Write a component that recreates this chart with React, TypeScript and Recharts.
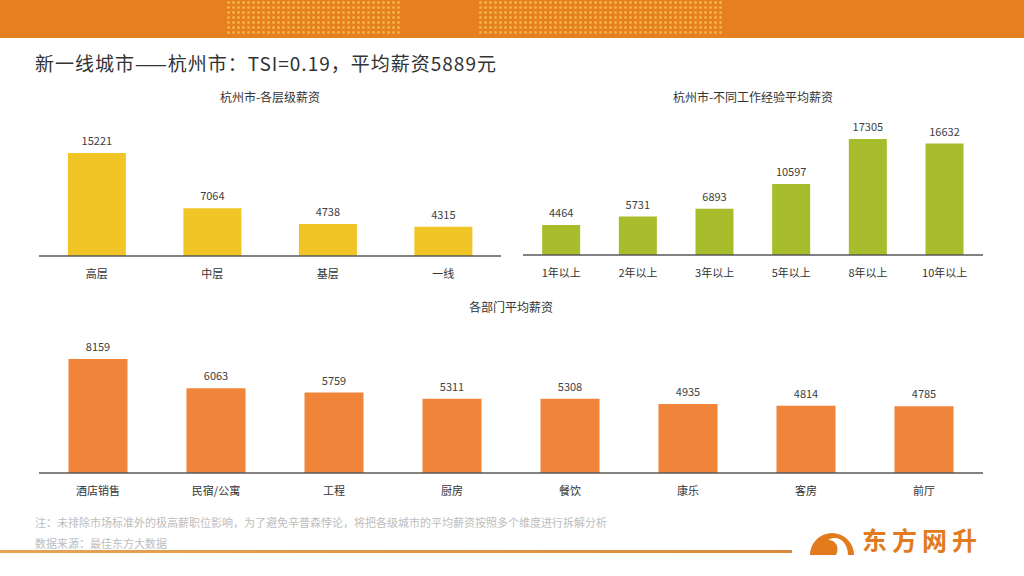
import { BarChart, Bar, XAxis, YAxis, LabelList } from "recharts"

const levelNames = ["高层", "中层", "基层", "一线"]
const levelPay = [15221, 7064, 4738, 4315]

const expNames = ["1年以上", "2年以上", "3年以上", "5年以上", "8年以上", "10年以上"]
const expPay = [4464, 5731, 6893, 10597, 17305, 16632]

const deptNames = ["酒店销售", "民宿/公寓", "工程", "厨房", "餐饮", "康乐", "客房", "前厅"]
const deptPay = [8159, 6063, 5759, 5311, 5308, 4935, 4814, 4785]

const FONT = "'Noto Sans CJK SC', 'Noto Sans', sans-serif"

const toRows = (names: string[], vals: number[]) =>
  names.map((name, i) => ({ name, value: vals[i] }))

interface Props {
  names: string[]
  values: number[]
  color: string
  width: number
  height: number
  top: number
  gap: string
}

const Plot = (props: Props) => {
  return (
    <BarChart
      width={props.width}
      height={props.height}
      data={toRows(props.names, props.values)}
      margin={{ top: props.top, right: 0, left: 0, bottom: 0 }}
      barCategoryGap={props.gap}
    >
      <XAxis
        dataKey="name"
        tickLine={false}
        axisLine={{ stroke: "#595959", strokeWidth: 1.5 }}
        tick={{ fill: "#333", fontSize: 11, fontFamily: FONT }}
        tickMargin={8}
        height={30}
        interval={0}
      />
      <YAxis hide domain={[0, "dataMax"]} />
      <Bar dataKey="value" fill={props.color} isAnimationActive={false}>
        <LabelList
          dataKey="value"
          position="top"
          offset={8}
          fill="#404040"
          fontSize={11}
          fontFamily={FONT}
        />
      </Bar>
    </BarChart>
  )
}

const abs = (left: number, top: number): React.CSSProperties => ({
  position: "absolute",
  left,
  top,
})

const App = () => {
  return (
    <div
      style={{
        position: "absolute",
        left: 0,
        top: 0,
        width: 1024,
        height: 576,
        background: "#fff",
        overflow: "hidden",
        fontFamily: FONT,
      }}
    >
      <div
        style={{
          ...abs(0, 0),
          width: 1024,
          height: 38,
          background: "#E57F1F",
        }}
      />
      <div
        style={{
          ...abs(226, 0),
          width: 175,
          height: 36,
          opacity: 0.75,
          backgroundImage: "radial-gradient(#F8C24A 1.3px, transparent 1.5px)",
          backgroundSize: "5px 5px",
        }}
      />
      <div
        style={{
          ...abs(478, 0),
          width: 244,
          height: 36,
          opacity: 0.75,
          backgroundImage: "radial-gradient(#F8C24A 1.3px, transparent 1.5px)",
          backgroundSize: "5px 5px",
        }}
      />

      <div style={{ ...abs(35, 49), fontSize: 19, letterSpacing: 1, color: "#333", whiteSpace: "nowrap" }}>
        新一线城市——杭州市：TSI=0.19，平均薪资5889元
      </div>

      <div style={{ ...abs(170, 88), width: 200, textAlign: "center", fontSize: 12, color: "#333" }}>
        杭州市-各层级薪资
      </div>
      <div style={{ ...abs(603, 88), width: 300, textAlign: "center", fontSize: 12, color: "#333" }}>
        杭州市-不同工作经验平均薪资
      </div>
      <div style={{ ...abs(411, 298), width: 200, textAlign: "center", fontSize: 12, color: "#333" }}>
        各部门平均薪资
      </div>

      <div style={abs(39, 121)}>
        <Plot names={levelNames} values={levelPay} color="#F0C525" width={462} height={165} top={32} gap="25%" />
      </div>
      <div style={abs(523, 111)}>
        <Plot names={expNames} values={expPay} color="#A7BD2B" width={460} height={174} top={28} gap="25%" />
      </div>
      <div style={abs(39, 331)}>
        <Plot names={deptNames} values={deptPay} color="#EF843A" width={944} height={172} top={28} gap="25%" />
      </div>

      <div style={{ ...abs(35, 514), fontSize: 11, color: "#BDBDBD", whiteSpace: "nowrap" }}>
        注：未排除市场标准外的极高薪职位影响，为了避免辛普森悖论，将把各级城市的平均薪资按照多个维度进行拆解分析
      </div>
      <div style={{ ...abs(35, 535), fontSize: 11, color: "#BDBDBD", whiteSpace: "nowrap" }}>
        数据来源：最佳东方大数据
      </div>
      <div
        style={{
          ...abs(0, 550),
          width: 792,
          height: 3,
          background: "linear-gradient(90deg, #E7A255, #D98A3C)",
        }}
      />

      <svg style={abs(808, 520)} width={48} height={36} viewBox="0 0 48 36">
        <path d="M2 35 A22 22 0 0 1 46 35 L40 35 C40 22 30 14 20 20 C28 20 32 27 28 35 Z" fill="#E27B1E" />
        <path d="M2 35 C8 27 14 24 20 28 L17 35 Z" fill="#E27B1E" />
      </svg>
      <div
        style={{
          ...abs(862, 527),
          fontSize: 25,
          lineHeight: 1,
          fontWeight: 700,
          color: "#E27B1E",
          letterSpacing: 5,
          whiteSpace: "nowrap",
        }}
      >
        东方网升
      </div>
    </div>
  )
}

export default App
